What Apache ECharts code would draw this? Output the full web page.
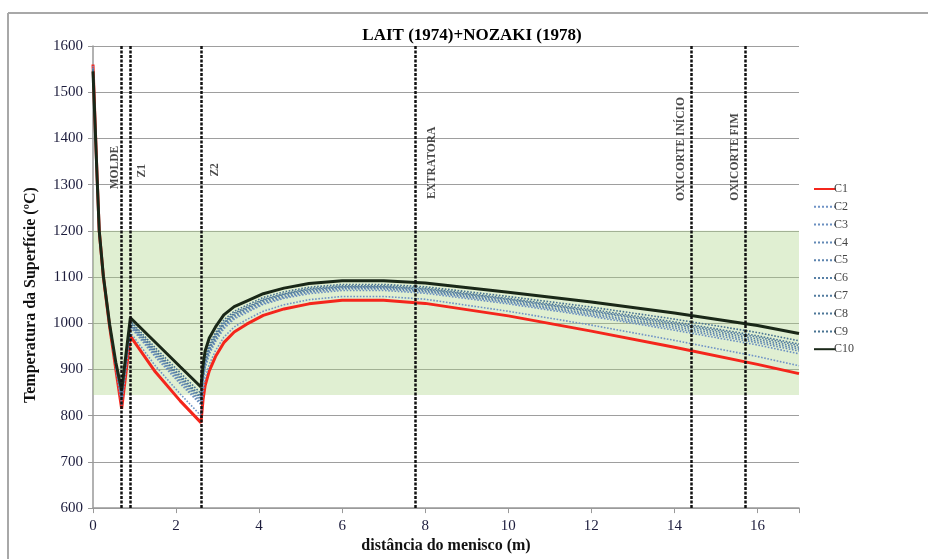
<!DOCTYPE html>
<html>
<head>
<meta charset="utf-8">
<script src="https://cdn.jsdelivr.net/npm/echarts@6/dist/echarts.min.js"></script>
<style>html,body{margin:0;padding:0;background:#fff;}#c{width:928px;height:559px;}</style>
</head>
<body>
<div id="c"></div>
<script>
// distance from meniscus (m)
var xs = [0, 0.05, 0.1, 0.15, 0.25, 0.4, 0.55, 0.69, 0.9, 1.5, 2.1, 2.6, 2.65, 2.7, 2.8, 2.95, 3.15, 3.4, 3.7, 4.1, 4.6, 5.2, 6, 7, 8, 10, 12, 14, 16, 17];
var c1  = [1560,1435,1315,1200,1100,993,900,815,972,895,832,785,835,865,897,928,958,981,998,1017,1031,1042,1050,1050,1043,1016,983,948,911,891];
var c2  = [1557,1434,1314,1200,1101,994,903,823,980,908,847,800,850,880,911,941,970,992,1008,1026,1040,1051,1058,1058,1052,1026,996,963,928,908];
var c3  = [1552,1433,1313,1200,1101,995,908,835,992,927,869,824,873,903,933,960,988,1009,1023,1041,1054,1064,1071,1071,1065,1042,1015,985,953,934];
var c4  = [1552,1432,1313,1200,1101,996,908,837,994,931,873,828,877,907,937,964,992,1012,1026,1043,1056,1067,1074,1074,1068,1045,1018,989,958,940];
var c5  = [1551,1432,1313,1200,1101,996,909,839,996,934,877,832,881,911,940,967,995,1015,1029,1046,1058,1069,1076,1076,1070,1047,1021,993,962,944];
var c6  = [1550,1432,1313,1200,1101,996,910,841,998,937,881,836,885,915,944,970,998,1017,1031,1048,1061,1071,1078,1078,1072,1050,1025,997,966,948];
var c7  = [1549,1431,1313,1200,1101,997,911,843,1000,940,884,839,888,918,947,973,1000,1020,1033,1050,1063,1073,1079,1079,1074,1052,1027,1000,970,952];
var c8  = [1549,1431,1313,1200,1101,997,911,845,1002,942,887,842,891,921,950,975,1002,1022,1035,1052,1064,1075,1081,1081,1076,1054,1030,1003,973,955];
var c9  = [1547,1431,1313,1200,1101,997,912,848,1005,947,893,848,897,927,955,980,1007,1026,1039,1056,1068,1078,1084,1084,1079,1058,1035,1009,980,962];
var c10 = [1545,1430,1312,1200,1102,998,915,855,1012,959,906,862,910,940,968,992,1018,1036,1048,1064,1076,1086,1092,1092,1087,1067,1046,1022,995,978];

var seriesNames = ['C1','C2','C3','C4','C5','C6','C7','C8','C9','C10'];
var seriesValues = [c1,c2,c3,c4,c5,c6,c7,c8,c9,c10];

// process markers
var markerNames = ['MOLDE','Z1','Z2','EXTRATORA','OXICORTE INÍCIO','OXICORTE FIM'];
var markerX = [0.69, 0.9, 2.6, 7.75, 14.4, 15.7];
var labelX = [0.53, 1.18, 2.94, 8.17, 14.17, 15.45];
var labelY = [1337, 1330, 1332, 1347, 1377, 1360];

// recommended surface temperature band
var bandLow = 845, bandHigh = 1200;

var yTicks = [600,700,800,900,1000,1100,1200,1300,1400,1500,1600];
var xTicks = [0,2,4,6,8,10,12,14,16];

var serif = '"Liberation Serif", "Times New Roman", serif';
var dotColors = ['#6f93c6','#6a8fc0','#6389b6','#5d84ae','#5780a6','#527b9f','#4d7798','#487391'];

var series = [];
series.push({
  name: 'band', type: 'line', data: [], z: 1, silent: true,
  markArea: { silent: true, itemStyle: { color: 'rgba(170,210,130,0.36)' },
    data: [[{ yAxis: bandLow }, { yAxis: bandHigh }]] }
});
seriesNames.forEach(function (n, k) {
  var vals = seriesValues[k];
  var data = xs.map(function (x, i) { return [x, vals[i]]; });
  var ls;
  if (k === 0) ls = { color: '#f4261c', width: 3, type: 'solid' };
  else if (k === 9) ls = { color: '#1a2818', width: 3, type: 'solid' };
  else ls = { color: dotColors[k - 1], width: 1.6, type: 'dotted' };
  series.push({
    name: n, type: 'line', data: data, showSymbol: false, symbol: 'none',
    lineStyle: ls, itemStyle: { color: ls.color }, z: 2 + k * 0.01, animation: false
  });
});
series.push({
  name: 'markers', type: 'scatter', symbolSize: 0, z: 5, silent: true,
  data: markerNames.map(function (t, i) { return { value: [labelX[i], labelY[i]], name: t }; }),
  label: { show: true, position: 'inside', rotate: 90, formatter: '{b}',
    fontFamily: serif, fontWeight: 'bold', fontSize: 11.5, color: '#1a1a1a' },
  markLine: { silent: true, symbol: ['none','none'], label: { show: false },
    lineStyle: { color: '#111', width: 2.5, type: [3, 1.5] },
    data: markerX.map(function (x) { return { xAxis: x }; }) }
});

var chart = echarts.init(document.getElementById('c'), null, { renderer: 'canvas' });
chart.setOption({
  animation: false,
  backgroundColor: '#fff',
  title: { text: 'LAIT (1974)+NOZAKI (1978)', left: 467, top: 22, textAlign: 'center',
    textStyle: { fontFamily: serif, fontWeight: 'bold', fontSize: 17, color: '#000' } },
  graphic: [
    { type: 'line', shape: { x1: 8, y1: 13, x2: 928, y2: 13 }, style: { stroke: '#a8a8a8', lineWidth: 2 } },
    { type: 'line', shape: { x1: 8, y1: 13, x2: 8, y2: 559 }, style: { stroke: '#a8a8a8', lineWidth: 2 } }
  ],
  legend: {
    data: seriesNames, orient: 'vertical', left: 808, top: 178,
    itemWidth: 22, itemHeight: 12, itemGap: 5.8,
    itemStyle: { opacity: 0 },
    textStyle: { fontFamily: serif, fontSize: 12, color: '#444', padding: [0,0,0,-7] }
  },
  grid: { left: 93, top: 46, right: 129, bottom: 46 },
  xAxis: {
    type: 'value', min: 0, max: 17, interval: 2,
    name: 'distância do menisco (m)', nameLocation: 'middle', nameGap: 27,
    nameTextStyle: { fontFamily: serif, fontWeight: 'bold', fontSize: 16, color: '#111' },
    axisLine: { show: true, lineStyle: { color: '#999', width: 1.5 } },
    axisTick: { show: true, length: 5, lineStyle: { color: '#999' } },
    axisLabel: { fontFamily: serif, fontSize: 15, color: '#1c1c3c', margin: 10,
      formatter: function (v) { return xTicks.indexOf(v) >= 0 ? String(v) : ''; } },
    splitLine: { show: false }
  },
  yAxis: {
    type: 'value', min: 600, max: 1600, interval: 100,
    name: 'Temperatura da Superfície (ºC)', nameLocation: 'middle', nameGap: 54,
    nameTextStyle: { fontFamily: serif, fontWeight: 'bold', fontSize: 16, color: '#111', padding: [0, 36, 0, 0] },
    axisLine: { show: true, lineStyle: { color: '#999', width: 1.5 } },
    axisTick: { show: true, length: 5, lineStyle: { color: '#999' } },
    axisLabel: { fontFamily: serif, fontSize: 15, color: '#1c1c3c', margin: 10,
      formatter: function (v) { return yTicks.indexOf(v) >= 0 ? String(v) : ''; } },
    splitLine: { show: true, lineStyle: { color: '#9e9e9e', width: 1 } }
  },
  series: series
});
</script>
</body>
</html>
